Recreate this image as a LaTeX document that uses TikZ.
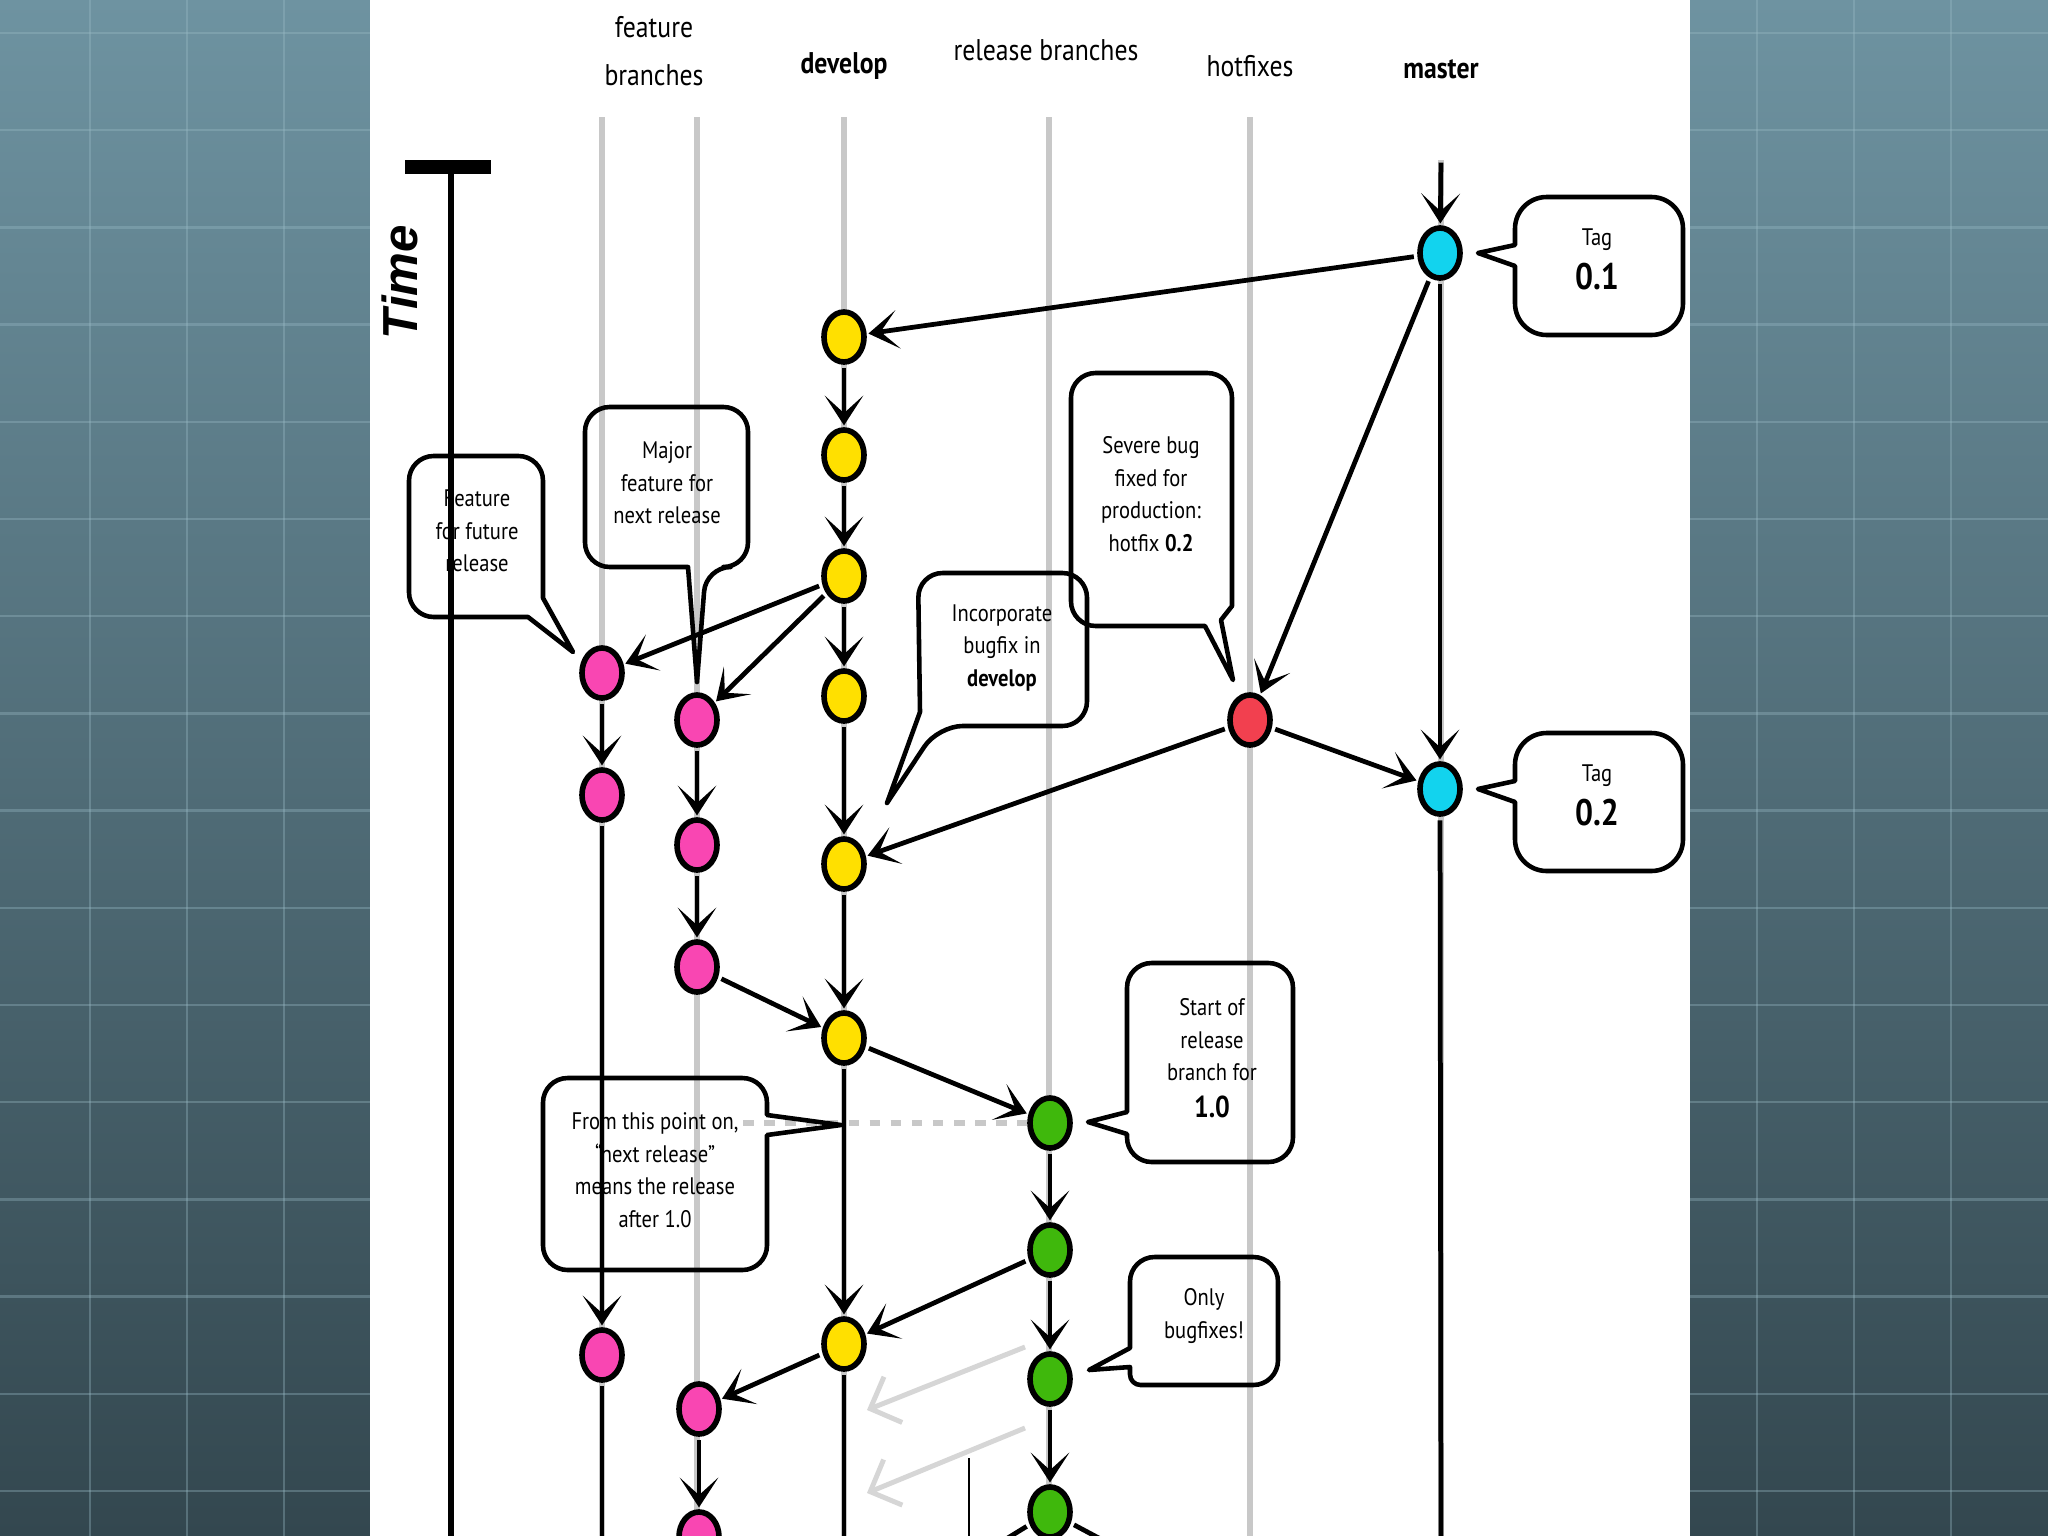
\documentclass[tikz,border=0pt]{standalone}
\usepackage{fontspec}
\setmainfont{PT Sans}[FakeStretch=0.86]
\newfontfamily\timefont{Liberation Sans}
\usetikzlibrary{arrows.meta,shapes.geometric}
\pgfdeclarelayer{back}
\pgfdeclarelayer{lanes}
\pgfdeclarelayer{bubbles}
\pgfdeclarelayer{edges}
\pgfsetlayers{back,lanes,bubbles,edges,main}
\definecolor{bgtop}{HTML}{6E93A1}
\definecolor{bgbot}{HTML}{33474F}
\definecolor{gridc}{HTML}{9BBCC7}
\definecolor{lanec}{HTML}{C8C8C8}
\definecolor{cyel}{HTML}{FFE000}
\definecolor{cmag}{HTML}{F946B2}
\definecolor{cgrn}{HTML}{3FB80C}
\definecolor{cred}{HTML}{F2404F}
\definecolor{ccya}{HTML}{12D3EE}
\definecolor{ghost}{HTML}{D6D6D6}
\begin{document}
\begin{tikzpicture}[x=0.01cm,y=-0.01cm,
  commit/.style={ellipse, draw=black, line width=1.6pt, minimum width=0.40cm, minimum height=0.50cm, inner sep=0pt},
  yel/.style={commit, fill=cyel},
  mag/.style={commit, fill=cmag},
  grn/.style={commit, fill=cgrn},
  rdn/.style={commit, fill=cred},
  cya/.style={commit, fill=ccya},
  arr/.style={line width=1.35pt, -{Stealth[length=8.5pt,width=11pt,inset=5pt]}, shorten >=0.5pt, shorten <=1pt},
  solidline/.style={line width=1.35pt, shorten <=1pt},
  lanestyle/.style={lanec, line width=1.6pt},
  bub/.style={draw=black, line width=1.3pt, line join=round},
  btxt/.style={font=\fontsize{6.8}{9.25}\selectfont, align=center, inner sep=0pt},
  hdr/.style={font=\fontsize{8.5}{13.6}\selectfont, align=center, inner sep=0pt},
  ghostarr/.style={ghost, line width=1.4pt, -{Straight Barb[length=7pt,width=14pt]}},
  dashline/.style={lanec, line width=1.6pt, dash pattern=on 3pt off 3pt},
]
\useasboundingbox (0,0) rectangle (2048,1536);

% ---------- background ----------
\begin{pgfonlayer}{back}
  \fill[top color=bgtop, bottom color=bgbot] (0,0) rectangle (2048,1536);
  \foreach \gx in {-7,90,187,284,1757,1854,1951}
    \draw[gridc, opacity=0.35, line width=0.7pt] (\gx,0) -- (\gx,1536);
  \foreach \k in {0,...,15}
    \draw[gridc, opacity=0.35, line width=0.7pt] (0,{33+97.2*\k}) -- (2048,{33+97.2*\k});
  \fill[white] (370,0) rectangle (1690,1536);
\end{pgfonlayer}

% ---------- lanes ----------
\begin{pgfonlayer}{lanes}
  \foreach \lx in {602,697,844,1049,1250}
    \draw[lanestyle] (\lx,117) -- (\lx,1545);
  \draw[lanestyle] (1441,160) -- (1441,1545);
  \coordinate (dstart) at (743,1123);
\end{pgfonlayer}

% ---------- headers ----------
\node[hdr] (hfeat) at (654,51) {feature\\branches};
\node[hdr, font=\fontsize{8.5}{13.6}\selectfont\bfseries] (hdev) at (844,66) {develop};
\node[hdr] (hrel) at (1046,50) {release branches};
\node[hdr] (hhot) at (1250,66) {hotfixes};
\node[hdr, font=\fontsize{8.5}{13.6}\selectfont\bfseries] (hmas) at (1441,69) {master};

\node[rotate=90, inner sep=0pt, font=\timefont\bfseries\itshape\fontsize{14}{15}\selectfont] (timelbl) at (400,282) {Time};

% ---------- commits ----------
\node[cya] (M1) at (1440,253) {};
\node[cya] (M2) at (1440,789) {};
\node[rdn] (H1) at (1250,720) {};
\node[yel] (D1) at (844,337) {};
\node[yel] (D2) at (844,455) {};
\node[yel] (D3) at (844,576) {};
\node[yel] (D4) at (844,696) {};
\node[yel] (D5) at (844,864) {};
\node[yel] (D6) at (844,1038) {};
\node[yel] (D7) at (844,1344) {};
\node[mag] (F1a) at (602,673) {};
\node[mag] (F1b) at (602,795) {};
\node[mag] (F1c) at (602,1355) {};
\node[mag] (F2a) at (697,720) {};
\node[mag] (F2b) at (697,845) {};
\node[mag] (F2c) at (697,967) {};
\node[mag] (F2d) at (699,1409) {};
\node[mag] (F2e) at (699,1537) {};
\node[grn] (R1) at (1050,1123) {};
\node[grn] (R2) at (1050,1250) {};
\node[grn] (R3) at (1050,1379) {};
\node[grn] (R4) at (1050,1512) {};

\coordinate (Mtop) at (1441,159);
\coordinate (D7end) at (844,1550);
\coordinate (F1end) at (602,1550);
\coordinate (M2end) at (1441,1550);
\coordinate (R4l) at (985,1552);
\coordinate (R4r) at (1125,1552);
\coordinate (thinA) at (969,1458);
\coordinate (thinB) at (969,1550);
\coordinate (g1s) at (1025,1347);
\coordinate (g1e) at (867,1410);
\coordinate (g2s) at (1025,1428);
\coordinate (g2e) at (867,1493);

% ---------- callouts ----------
\begin{pgfonlayer}{lanes}
  \draw[dashline] (dstart) -- (R1.west);
\end{pgfonlayer}
\begin{pgfonlayer}{bubbles}
  % feature for future release
  \draw[bub] (476,456) [rounded corners=7pt] -- (543,456) [sharp corners] -- (543,598) -- (573,652) -- (528,617) [rounded corners=7pt] -- (409,617) -- (409,456) -- cycle;
  \node[btxt] (tb1) at (477,531) {Feature\\for future\\release};
  % major feature
  \draw[bub] (667,407) [rounded corners=7pt] -- (748,407) -- (748,567) -- (706,567) [sharp corners] -- (697,682) -- (688,567) [rounded corners=7pt] -- (585,567) -- (585,407) -- cycle;
  \node[btxt] (tb2) at (667,483) {Major\\feature for\\next release};
  % severe bug
  \draw[bub] (1150,373) [rounded corners=7pt] -- (1232,373) [sharp corners] -- (1232,606) -- (1221,620) -- (1233,680) -- (1205,626) [rounded corners=7pt] -- (1071,626) -- (1071,373) -- cycle;
  \node[btxt] (tb3) at (1151,494) {Severe bug\\fixed for\\production:\\hotfix \textbf{0.2}};
  % incorporate bugfix
  \draw[bub] (1002,573) [rounded corners=7pt] -- (1087,573) -- (1087,726) -- (938,726) [sharp corners] -- (887,803) -- (920,712) [rounded corners=7pt] -- (918,573) -- cycle;
  \node[btxt] (tb4) at (1002,648) {Incorporate\\bugfix in\\\textbf{develop}};
  % start of release branch
  \draw[bub] (1210,963) [rounded corners=7pt] -- (1293,963) -- (1293,1162) -- (1127,1162) [sharp corners] -- (1127,1134) -- (1088,1122) -- (1127,1112) [rounded corners=7pt] -- (1127,963) -- cycle;
  \node[btxt] (tb5) at (1212,1040) {Start of\\release\\branch for};
  \node[inner sep=0pt, font=\fontsize{8.6}{10}\selectfont\bfseries] (tb5v) at (1212,1107) {1.0};
  % only bugfixes
  \draw[bub] (1204,1257) [rounded corners=7pt] -- (1278,1257) -- (1278,1385) [rounded corners=3pt] -- (1130,1385) [sharp corners] -- (1130,1367) -- (1089,1370) -- (1130,1348) [rounded corners=7pt] -- (1130,1257) -- cycle;
  \node[btxt] (tb6) at (1204,1316) {Only\\bugfixes!};
  % from this point on
  \draw[bub] (655,1078) [rounded corners=7pt] -- (767,1078) [sharp corners] -- (767,1115) -- (841,1125) -- (767,1135) [rounded corners=7pt] -- (767,1270) -- (543,1270) -- (543,1078) -- cycle;
  \node[btxt] (tb7) at (655,1170) {From this point on,\\“next release”\\means the release\\after 1.0};
  % tag 0.1
  \draw[bub] (1600,197) [rounded corners=9pt] -- (1683,197) -- (1683,335) -- (1515,335) [sharp corners] -- (1515,266) -- (1478,253) -- (1515,245) [rounded corners=9pt] -- (1515,197) -- cycle;
  \node[inner sep=0pt, font=\fontsize{6.8}{8}\selectfont] (tag1) at (1597,240) {Tag};
  \node[inner sep=0pt, font=\fontsize{10.5}{12}\selectfont\bfseries] (tag1v) at (1597,277) {0.1};
  % tag 0.2
  \draw[bub] (1600,733) [rounded corners=9pt] -- (1683,733) -- (1683,871) -- (1515,871) [sharp corners] -- (1515,802) -- (1478,789) -- (1515,781) [rounded corners=9pt] -- (1515,733) -- cycle;
  \node[inner sep=0pt, font=\fontsize{6.8}{8}\selectfont] (tag2) at (1597,776) {Tag};
  \node[inner sep=0pt, font=\fontsize{10.5}{12}\selectfont\bfseries] (tag2v) at (1597,813) {0.2};
\end{pgfonlayer}

% ---------- connectors ----------
\begin{pgfonlayer}{edges}
  % time axis
  \draw[line width=4pt] (405,167) -- (491,167);
  \draw[line width=1.6pt] (451,167) -- (451,1550);
  % master
  \draw[arr] (Mtop) -- (M1);
  \draw[arr] (M1) -- (D1);
  \draw[arr] (M1) -- (H1);
  \draw[arr] (M1) -- (M2);
  \draw[solidline] (M2) -- (M2end);
  % develop
  \draw[arr] (D1) -- (D2);
  \draw[arr] (D2) -- (D3);
  \draw[arr] (D3) -- (D4);
  \draw[arr] (D4) -- (D5);
  \draw[arr] (D5) -- (D6);
  \draw[arr] (D6) -- (D7);
  \draw[solidline] (D7) -- (D7end);
  % features
  \draw[arr] (D3) -- (F1a);
  \draw[arr] (D3) -- (F2a);
  \draw[arr] (F1a) -- (F1b);
  \draw[arr] (F1b) -- (F1c);
  \draw[solidline] (F1c) -- (F1end);
  \draw[arr] (F2a) -- (F2b);
  \draw[arr] (F2b) -- (F2c);
  \draw[arr] (F2c) -- (D6);
  \draw[arr] (D7) -- (F2d);
  \draw[arr] (F2d) -- (F2e);
  % hotfix
  \draw[arr] (H1) -- (D5);
  \draw[arr] (H1) -- (M2);
  % release
  \draw[arr] (D6) -- (R1);
  \draw[arr] (R1) -- (R2);
  \draw[arr] (R2) -- (R3);
  \draw[arr] (R3) -- (R4);
  \draw[arr] (R2) -- (D7);
  \draw[solidline] (R4) -- (R4l);
  \draw[solidline] (R4) -- (R4r);
  \draw[line width=0.6pt] (thinA) -- (thinB);
  % faded arrows
  \draw[ghostarr] (g1s) -- (g1e);
  \draw[ghostarr] (g2s) -- (g2e);
\end{pgfonlayer}
\end{tikzpicture}
\end{document}
